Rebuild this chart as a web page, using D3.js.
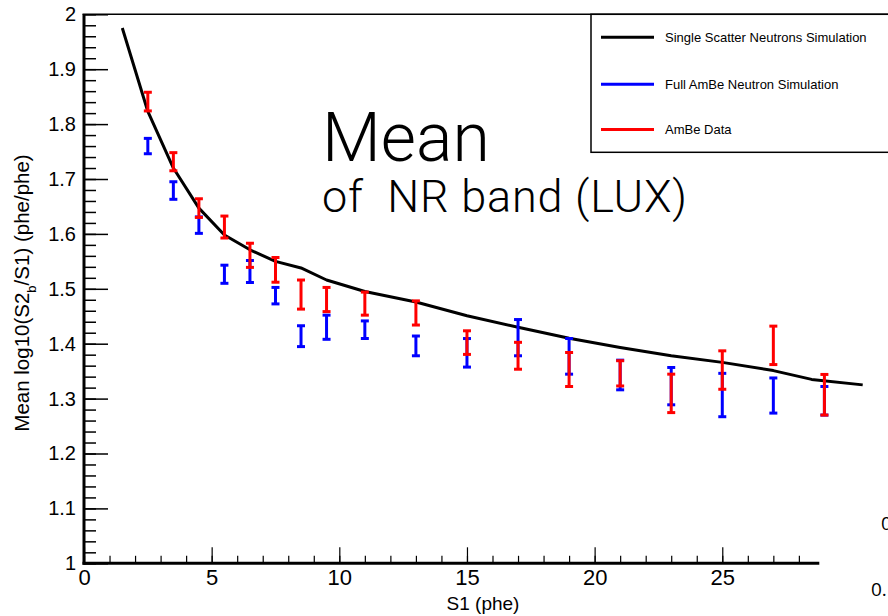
<!DOCTYPE html>
<html>
<head>
<meta charset="utf-8">
<script src="https://cdn.jsdelivr.net/npm/d3@7"></script>
<style>
  body { margin: 0; background: #fff; }
  svg { display: block; }
  text { font-family: "Liberation Sans", Arial, sans-serif; }
</style>
</head>
<body>
<svg id="chart" width="888" height="616"></svg>
<script>
// single scatter neutron simulation (black curve)
var simS1 = [1.5, 2.5, 3.5, 4.5, 5.5, 6.5, 7.5, 8.5, 9.5, 11, 13, 15, 17, 19, 21, 23, 25, 27, 28.5, 30.5];
var simMean = [1.975, 1.823, 1.72, 1.647, 1.598, 1.571, 1.550, 1.538, 1.516, 1.495, 1.476, 1.451, 1.430, 1.410, 1.393, 1.378, 1.366, 1.351, 1.335, 1.325];

// S1 bins of the points
var binS1 = [2.5, 3.5, 4.5, 5.5, 6.5, 7.5, 8.5, 9.5, 11, 13, 15, 17, 19, 21, 23, 25, 27, 29];
// full AmBe neutron simulation (blue)
var fullMean = [1.760, 1.679, 1.616, 1.5265, 1.5315, 1.4875, 1.4137, 1.430, 1.4255, 1.396, 1.3834, 1.411, 1.377, 1.343, 1.3227, 1.3065, 1.3056, 1.296];
var fullErr = [0.014, 0.016, 0.015, 0.0165, 0.02, 0.015, 0.019, 0.022, 0.016, 0.018, 0.026, 0.033, 0.0325, 0.027, 0.034, 0.0395, 0.032, 0.026];
// AmBe data (red)
var dataMean = [1.841, 1.7315, 1.647, 1.6125, 1.561, 1.5345, 1.4895, 1.4805, 1.473, 1.456, 1.402, 1.378, 1.353, 1.346, 1.3095, 1.352, 1.397, 1.307];
var dataErr = [0.017, 0.0165, 0.017, 0.02, 0.022, 0.0225, 0.0265, 0.022, 0.021, 0.022, 0.0215, 0.0245, 0.031, 0.023, 0.035, 0.035, 0.035, 0.037];

var xMajor = [0, 5, 10, 15, 20, 25];
var yMajor = [1, 1.1, 1.2, 1.3, 1.4, 1.5, 1.6, 1.7, 1.8, 1.9, 2];
var legendLabels = ["Single Scatter Neutrons Simulation", "Full AmBe Neutron Simulation", "AmBe Data"];
var legendColors = ["#000000", "#0000ff", "#ff0000"];

var svg = d3.select("#chart");
var padL = 84, padR = 819.3, padT = 14.3, padB = 563.3;

var x = d3.scaleLinear().domain([0, 28.8]).range([padL, padR]);
var y = d3.scaleLinear().domain([1, 2]).range([padB, padT]);

// minor ticks
svg.append("g").attr("transform", "translate(" + padL + ",0)")
    .call(d3.axisLeft(y).tickValues(d3.range(1, 2.001, 0.02)).tickSize(-12).tickFormat(""))
    .call(function (g) { g.select(".domain").remove(); g.selectAll("line").attr("stroke-width", 1.5); });
svg.append("g").attr("transform", "translate(0," + padB + ")")
    .call(d3.axisBottom(x).tickValues(d3.range(0, 29, 1)).tickSize(-7.5).tickFormat(""))
    .call(function (g) { g.select(".domain").remove(); g.selectAll("line").attr("stroke-width", 1.2); });

// major ticks + labels
var yAxis = svg.append("g").attr("transform", "translate(" + padL + ",0)")
    .call(d3.axisLeft(y).tickValues(yMajor).tickSize(-24).tickPadding(8).tickFormat(d3.format("")))
    .call(function (g) { g.select(".domain").remove(); g.selectAll("line").attr("stroke-width", 1.5); });
yAxis.selectAll("text").style("font-size", "20px").attr("fill", "#000");

var xAxis = svg.append("g").attr("transform", "translate(0," + padB + ")")
    .call(d3.axisBottom(x).tickValues(xMajor).tickSize(-16).tickPadding(6).tickFormat(d3.format("")))
    .call(function (g) { g.select(".domain").remove(); g.selectAll("line").attr("stroke-width", 1.2); });
xAxis.selectAll("text").style("font-size", "22px").attr("fill", "#000");

// frame
svg.append("line").attr("x1", padL).attr("x2", padL).attr("y1", padT).attr("y2", padB + 1.5)
    .attr("stroke", "#000").attr("stroke-width", 3);
svg.append("line").attr("x1", padL - 1.5).attr("x2", padR).attr("y1", padB).attr("y2", padB)
    .attr("stroke", "#000").attr("stroke-width", 3);
svg.append("line").attr("x1", padL - 1.5).attr("x2", 888).attr("y1", padT).attr("y2", padT)
    .attr("stroke", "#000").attr("stroke-width", 1.5);

// axis titles
svg.append("text").attr("x", 483).attr("y", 610).attr("text-anchor", "middle")
    .style("font-size", "19px").text("S1 (phe)");
var yt = svg.append("text").attr("transform", "translate(29,293) rotate(-90)")
    .attr("text-anchor", "middle").style("font-size", "20.5px");
yt.append("tspan").text("Mean log10(S2");
yt.append("tspan").attr("dy", 7).style("font-size", "13px").text("b");
yt.append("tspan").attr("dy", -7).text("/S1) (phe/phe)");

// black simulation curve
var line = d3.line().x(function (d, i) { return x(simS1[i]); }).y(function (d) { return y(d); });
svg.append("path").datum(simMean).attr("d", line)
    .attr("fill", "none").attr("stroke", "#000").attr("stroke-width", 3).attr("stroke-linejoin", "round");

// error bars
function errBars(means, errs, color) {
    var g = svg.append("g").attr("stroke", color);
    var pts = g.selectAll("g").data(means).join("g");
    pts.append("line")
        .attr("x1", function (d, i) { return x(binS1[i]); })
        .attr("x2", function (d, i) { return x(binS1[i]); })
        .attr("y1", function (d, i) { return y(d + errs[i]); })
        .attr("y2", function (d, i) { return y(d - errs[i]); })
        .attr("stroke-width", 3);
    [1, -1].forEach(function (s) {
        pts.append("line")
            .attr("x1", function (d, i) { return x(binS1[i]) - 4; })
            .attr("x2", function (d, i) { return x(binS1[i]) + 4; })
            .attr("y1", function (d, i) { return y(d + s * errs[i]); })
            .attr("y2", function (d, i) { return y(d + s * errs[i]); })
            .attr("stroke-width", 3);
    });
}
errBars(fullMean, fullErr, "#0000ff");
errBars(dataMean, dataErr, "#ff0000");

// big caption
svg.append("text").attr("x", 322).attr("y", 161).style("font-family", "Roboto, 'Liberation Sans', sans-serif")
    .style("font-weight", 300).style("font-size", "68px").text("Mean");
svg.append("text").attr("x", 322).attr("y", 212).style("font-family", "Roboto, 'Liberation Sans', sans-serif")
    .style("font-weight", 300).style("font-size", "45px").style("letter-spacing", "0.8px")
    .attr("xml:space", "preserve").text("of  NR band (LUX)");

// legend
var lg = svg.append("g");
lg.append("rect").attr("x", 591).attr("y", 14.3).attr("width", 320).attr("height", 138)
    .attr("fill", "#fff").attr("stroke", "#000").attr("stroke-width", 1.5);
var items = lg.selectAll("g.item").data(legendLabels).join("g").attr("class", "item")
    .attr("transform", function (d, i) { return "translate(0," + [37.3, 84.3, 129.5][i] + ")"; });
items.append("line").attr("x1", 601).attr("x2", 654).attr("y1", 0).attr("y2", 0)
    .attr("stroke", function (d, i) { return legendColors[i]; }).attr("stroke-width", 3);
items.append("text").attr("x", 665).attr("y", 4.5).style("font-size", "13px").text(function (d) { return d; });

// clipped labels of the neighbouring pad
svg.append("text").attr("x", 881).attr("y", 530).style("font-family", "'Open Sans', sans-serif")
    .style("font-size", "19px").text("0");
svg.append("text").attr("x", 871).attr("y", 596).style("font-family", "'Open Sans', sans-serif")
    .style("font-size", "19px").text("0.");
</script>
</body>
</html>
